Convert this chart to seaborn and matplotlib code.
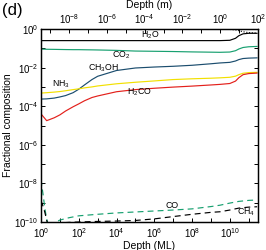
import matplotlib
matplotlib.use("Agg")
import matplotlib.pyplot as plt
import seaborn as sns
import pandas as pd
from matplotlib.ticker import NullLocator

# ---------------- data ----------------
depth_ml = [1, 2, 5, 10, 20, 50, 100, 200, 500, 1e3, 1e4, 1e5, 1e6, 1e7, 1e8,
            1e9, 3e9, 1e10, 2e10, 3e10, 5e10, 1e11, 2.8e11]
total = [0.95, 0.95, 0.95, 0.95, 0.95, 0.95, 0.95, 0.95, 0.95, 0.95, 0.95, 0.95,
         0.95, 0.95, 0.95, 0.95, 0.95, 0.95, 0.90, 0.82, 0.72, 0.65, 0.61]
h2o = [0.25, 0.25, 0.25, 0.25, 0.25, 0.25, 0.25, 0.25, 0.25, 0.25, 0.25, 0.25,
       0.25, 0.25, 0.25, 0.25, 0.25, 0.26, 0.33, 0.45, 0.56, 0.60, 0.60]
co2 = [0.091, 0.089, 0.088, 0.087, 0.086, 0.085, 0.085, 0.084, 0.083, 0.082,
       0.078, 0.072, 0.070, 0.068, 0.065, 0.063, 0.062, 0.064, 0.075, 0.092,
       0.11, 0.12, 0.125]
ch3oh = [2.34e-4, 2.40e-4, 2.63e-4, 3.02e-4, 3.55e-4, 5.01e-4, 7.59e-4, 1.26e-3,
         2.40e-3, 3.55e-3, 7.08e-3, 9.55e-3, 1.07e-2, 1.17e-2, 1.32e-2, 1.58e-2,
         1.74e-2, 1.87e-2, 2.2e-2, 2.6e-2, 2.95e-2, 3.1e-2, 3.2e-2]
nh3 = [4.79e-4, 5.01e-4, 5.37e-4, 5.75e-4, 6.31e-4, 7.24e-4, 7.94e-4, 8.91e-4,
       1.0e-3, 1.12e-3, 1.45e-3, 1.74e-3, 2.04e-3, 2.40e-3, 2.63e-3, 2.82e-3,
       2.95e-3, 3.15e-3, 3.6e-3, 4.3e-3, 5.1e-3, 5.5e-3, 5.7e-3]
h2co = [3.98e-5, 1.78e-5, 2.51e-5, 3.55e-5, 5.62e-5, 9.33e-5, 1.32e-4, 1.91e-4,
        2.82e-4, 3.39e-4, 5.62e-4, 7.24e-4, 8.51e-4, 9.77e-4, 1.10e-3, 1.26e-3,
        1.35e-3, 1.5e-3, 2.0e-3, 3.0e-3, 4.3e-3, 4.9e-3, 5.2e-3]

depth_ml_minor = [1, 1.3, 1.6, 2, 2.5, 3.2, 5, 10, 30, 100, 1e3, 1e4, 1e5, 1e6,
                  1e7, 1e8, 1e9, 3e9, 1e10, 3e10, 1e11, 2.8e11]
co = [1.58e-8, 2.51e-9, 5.01e-10, 1.41e-10, 6.31e-11, 5.01e-11, 8.91e-11,
      1.26e-10, 1.66e-10, 2.09e-10, 2.51e-10, 2.95e-10, 3.31e-10, 3.72e-10,
      4.17e-10, 4.79e-10, 6.31e-10, 7.41e-10, 9.55e-10, 1.17e-9, 1.32e-9, 1.38e-9]
ch4 = [1.26e-9, 6.31e-10, 3.16e-10, 1.26e-10, 5.01e-11, 3.16e-11, 3.98e-11,
       8.91e-11, 9.55e-11, 1.0e-10, 1.07e-10, 1.12e-10, 1.20e-10, 1.45e-10,
       1.91e-10, 2.51e-10, 3.16e-10, 3.39e-10, 4.17e-10, 5.25e-10, 5.89e-10,
       6.17e-10]

ml_thickness_m = 3.25e-10
xlim_ml = (1, 3.1e11)
ylim = (1e-10, 1)

y_ticks = [1, 1e-1, 1e-2, 1e-3, 1e-4, 1e-5, 1e-6, 1e-7, 1e-8, 1e-9, 1e-10]
y_labels = ["$10^{0}$", "", "$10^{-2}$", "", "$10^{-4}$", "", "$10^{-6}$", "",
            "$10^{-8}$", "", "$10^{-10}$"]
x_ticks = [1, 1e1, 1e2, 1e3, 1e4, 1e5, 1e6, 1e7, 1e8, 1e9, 1e10, 1e11]
x_labels = ["$10^{0}$", "", "$10^{2}$", "", "$10^{4}$", "", "$10^{6}$", "",
            "$10^{8}$", "", "$10^{10}$", ""]
top_ticks = [1e-9, 1e-8, 1e-7, 1e-6, 1e-5, 1e-4, 1e-3, 1e-2, 1e-1, 1, 1e1, 1e2]
top_labels = ["", "$10^{-8}$", "", "$10^{-6}$", "", "$10^{-4}$", "", "$10^{-2}$",
              "", "$10^{0}$", "", "$10^{2}$"]

# ---------------- style ----------------
sns.set_theme(style="ticks")
plt.rcParams["font.family"] = ["Liberation Sans", "DejaVu Sans"]
plt.rcParams["mathtext.fontset"] = "custom"
plt.rcParams["mathtext.rm"] = "Liberation Sans"
plt.rcParams["mathtext.it"] = "Liberation Sans:italic"
plt.rcParams["mathtext.bf"] = "Liberation Sans:bold"
plt.rcParams["text.color"] = "black"
plt.rcParams["axes.labelcolor"] = "black"
plt.rcParams["xtick.color"] = "black"
plt.rcParams["ytick.color"] = "black"

fig = plt.figure(figsize=(2.66, 2.5), dpi=100)
ax = fig.add_axes([41 / 266, 1 - 222 / 250, (258 - 41) / 266, (222 - 29) / 250])
ax.set_xscale("log")
ax.set_yscale("log")

lw = 0.85
main = pd.DataFrame({"depth": depth_ml, "total": total, "H2O": h2o, "CO2": co2,
                     "CH3OH": ch3oh, "NH3": nh3, "H2CO": h2co})
minor = pd.DataFrame({"depth": depth_ml_minor, "CO": co, "CH4": ch4})

sns.lineplot(data=main, x="depth", y="total", ax=ax, color="black", lw=0.8,
             linestyle=(0, (1, 1.5)), estimator=None, sort=False)
sns.lineplot(data=main, x="depth", y="H2O", ax=ax, color="black", lw=lw,
             estimator=None, sort=False)
sns.lineplot(data=main, x="depth", y="CO2", ax=ax, color="#17a070", lw=lw,
             estimator=None, sort=False)
sns.lineplot(data=main, x="depth", y="CH3OH", ax=ax, color="#1b4d6e", lw=lw,
             estimator=None, sort=False)
sns.lineplot(data=main, x="depth", y="NH3", ax=ax, color="#f2e000", lw=lw,
             estimator=None, sort=False)
sns.lineplot(data=main, x="depth", y="H2CO", ax=ax, color="#e3201b", lw=lw,
             estimator=None, sort=False)
sns.lineplot(data=minor, x="depth", y="CO", ax=ax, color="#17a070", lw=lw,
             linestyle=(0, (5, 3.5)), estimator=None, sort=False)
sns.lineplot(data=minor, x="depth", y="CH4", ax=ax, color="black", lw=lw,
             linestyle=(0, (5, 3.5)), estimator=None, sort=False)

ax.set_xlim(*xlim_ml)
ax.set_ylim(*ylim)
ax.set_yticks(y_ticks, y_labels)
ax.set_xticks(x_ticks, x_labels)
ax.yaxis.set_minor_locator(NullLocator())
ax.xaxis.set_minor_locator(NullLocator())
ax.tick_params(which="both", direction="in", length=3, width=0.7, labelsize=7,
               right=True, top=False, pad=2)
ax.tick_params(axis="x", pad=3)
ax.set_xlabel("Depth (ML)", fontsize=7.5, labelpad=1)
ax.set_ylabel("Fractional composition", fontsize=7.5, labelpad=1)

ax2 = ax.twiny()
ax2.set_xscale("log")
ax2.set_xlim(xlim_ml[0] * ml_thickness_m, xlim_ml[1] * ml_thickness_m)
ax2.set_xticks(top_ticks, top_labels)
ax2.xaxis.set_minor_locator(NullLocator())
ax2.tick_params(which="both", direction="in", length=3, width=0.7, labelsize=7,
                pad=2)
ax2.set_xlabel("Depth (m)", fontsize=7.5, labelpad=3)

for a in (ax, ax2):
    for s in a.spines.values():
        s.set_linewidth(0.9)
        s.set_color("black")

lab = dict(fontsize=6.3, ha="center", va="center")
ax.text(6e5, 0.46, "H$_2$O", **lab)
ax.text(1.7e4, 0.045, "CO$_2$", **lab)
ax.text(1.9e3, 0.0095, "CH$_3$OH", **lab)
ax.text(11.5, 1.4e-3, "NH$_3$", **lab)
ax.text(1.6e5, 5.5e-4, "H$_2$CO", **lab)
ax.text(8.7e6, 7.6e-10, "CO", **lab)
ax.text(7.2e10, 3.3e-10, "CH$_4$", **lab)

fig.text(2 / 266, 1 - 11 / 250, "(d)", fontsize=12, ha="left", va="center")

fig.savefig("out.png", dpi=100)
